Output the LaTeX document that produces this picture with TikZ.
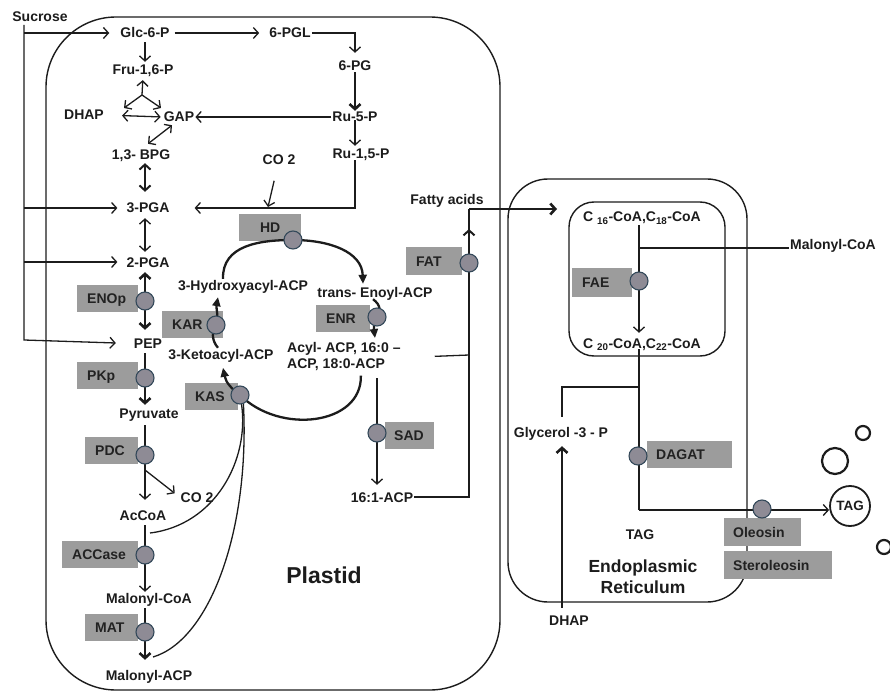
\documentclass[tikz,border=0pt]{standalone}
\usepackage{fontspec}
\setmainfont{Liberation Sans}
\usetikzlibrary{arrows.meta}
\definecolor{ink}{HTML}{1C1C1C}
\definecolor{boxgray}{HTML}{9C9C9C}
\definecolor{boxtext}{HTML}{222222}
\definecolor{circfill}{HTML}{8E8B95}
\definecolor{circedge}{HTML}{34495A}
\begin{document}
\begin{tikzpicture}[x=1pt,y=-1pt,
  txt/.style={font=\fontsize{14}{16}\selectfont\bfseries, text=ink, inner sep=1pt},
  lbl/.style={txt, text height=10pt, text depth=0pt},
  enz/.style={fill=boxgray, text=boxtext, font=\fontsize{14}{16}\selectfont\bfseries, inner xsep=10pt, inner ysep=0pt, minimum height=27pt, anchor=west, text height=10pt, text depth=0pt},
  enzc/.style={circle, fill=circfill, draw=circedge, line width=1.1pt, minimum size=18pt, inner sep=0pt},
  ln/.style={draw=ink, line width=1.3pt},
  mid/.style={draw=ink, line width=2pt},
  thk/.style={draw=ink, line width=2.6pt},
  cyc/.style={draw=ink, line width=2.3pt},
  comp/.style={draw=ink, line width=1.4pt},
  barb/.tip={Straight Barb[length=5pt,width=11pt]},
  tri/.tip={Triangle[length=9pt,width=8pt]},
  drop/.style={circle, draw=ink, line width=2.2pt, inner sep=0pt}
]
\useasboundingbox (0,0) rectangle (890,692);

% compartments
\draw[comp, rounded corners=70pt] (46,17) rectangle (500,690);
\draw[comp, rounded corners=40pt] (508,179) rectangle (747,602);
\draw[comp, rounded corners=25pt] (569,202) rectangle (725,356);

% enzyme boxes
\node[enz] (enop) at (77,298.5) {\makebox[41pt][l]{ENOp}};
\node[enz] (pkp) at (77,375) {\makebox[41pt][l]{PKp}};
\node[enz] (pdc) at (85,450) {\makebox[33pt][l]{PDC}};
\node[enz] (accase) at (62,554.5) {\makebox[56pt][l]{ACCase}};
\node[enz] (mat) at (85,627.5) {\makebox[33pt][l]{MAT}};
\node[enz] (hd) at (239,227.5) {\makebox[42pt][c]{HD}};
\node[enz] (kar) at (162,324) {\makebox[41pt][l]{KAR}};
\node[enz] (kas) at (185,396.5) {\makebox[33pt][l]{KAS}};
\node[enz] (enr) at (316,318.5) {\makebox[34pt][l]{ENR}};
\node[enz] (fat) at (406,261) {\makebox[36pt][l]{FAT}};
\node[enz, inner xsep=9pt] (sad) at (385,435) {\makebox[31pt][l]{SAD}};
\node[enz, minimum height=29pt] (fae) at (572,282.5) {\makebox[40pt][l]{FAE}};
\node[enz, inner xsep=9pt] (dagat) at (647,454.5) {\makebox[67pt][l]{DAGAT}};
\node[enz, inner xsep=9pt, minimum height=28pt] (oleo) at (724,532) {\makebox[59pt][l]{Oleosin}};
\node[enz, inner xsep=9pt, minimum height=28pt] (stero) at (724,565) {\makebox[90pt][l]{Steroleosin}};

% metabolite labels
\node[lbl] (suc) at (40,17) {Sucrose};
\node[lbl] (glc) at (145,33) {Glc-6-P};
\node[lbl] (pgl) at (290,33) {6-PGL};
\node[lbl] (pg) at (355,66) {6-PG};
\node[lbl] (ru5) at (355,117) {Ru-5-P};
\node[lbl] (ru15) at (361,154) {Ru-1,5-P};
\node[lbl] (gap) at (179,117) {GAP};
\node[lbl] (dhapa) at (84,115) {DHAP};
\node[lbl] (fru) at (143,70) {Fru-1,6-P};
\node[lbl] (bpg) at (141,155) {1,3- BPG};
\node[lbl] (co2a) at (279,160) {CO 2};
\node[lbl] (pgathree) at (148,208) {3-PGA};
\node[lbl] (pgatwo) at (148,262) {2-PGA};
\node[lbl] (pep) at (148,343) {PEP};
\node[lbl] (pyr) at (149,413) {Pyruvate};
\node[lbl] (co2b) at (197,497) {CO 2};
\node[lbl] (accoa) at (143,515) {AcCoA};
\node[lbl] (malcoa) at (149,598) {Malonyl-CoA};
\node[lbl] (malacp) at (149,675) {Malonyl-ACP};
\node[lbl] (hyd) at (243,285) {3-Hydroxyacyl-ACP};
\node[lbl] (keto) at (221,354) {3-Ketoacyl-ACP};
\node[lbl] (enoyl) at (375,293) {trans- Enoyl-ACP};
\node[txt, align=left, anchor=north west] (acyl) at (286,341) {Acyl- ACP, 16:0 --\\ACP, 18:0-ACP};
\node[lbl] (fa) at (447,200) {Fatty acids};
\node[lbl] (cone) at (382,497) {16:1-ACP};
\node[font=\fontsize{23}{26}\selectfont\bfseries, text=ink] (plastid) at (324,575) {Plastid};
\node[lbl] (csixteen) at (642,217) {C \textsubscript{16}-CoA,C\textsubscript{18}-CoA};
\node[lbl] (ctwenty) at (642,343) {C \textsubscript{20}-CoA,C\textsubscript{22}-CoA};
\node[lbl] (malcoab) at (833,245) {Malonyl-CoA};
\node[lbl] (gly) at (561,432) {Glycerol -3 - P};
\node[lbl] (dhapb) at (569,620) {DHAP};
\node[lbl] (tagin) at (640,534) {TAG};
\node[txt, font=\fontsize{17.5}{21}\selectfont\bfseries, align=center, anchor=north] (er) at (643,558.5) {Endoplasmic\\Reticulum};
\node[circle, draw=ink, line width=1.8pt, minimum size=40pt, inner sep=0pt, font=\fontsize{13.5}{15}\selectfont\bfseries, text=ink] (tagc) at (850,506) {TAG};

% helper coordinates
\coordinate (colx) at (145,0);
\coordinate (s0) at (24,25);
\coordinate (s1) at (24,340);
\coordinate (tri0) at (142,95);
\coordinate (triL) at (124,108);
\coordinate (triR) at (161,108);
\coordinate (co2tip) at (268,207);
\coordinate (pdcb) at (145,470);
\coordinate (acj) at (150,533);
\coordinate (mtj) at (153,657);
\coordinate (enrtip) at (375,338);
\coordinate (sadstart) at (377,378);
\coordinate (fajn) at (469,355);
\coordinate (famid) at (469,229);
\coordinate (fatop) at (469,209);
\coordinate (fatip) at (557,209);
\coordinate (erx) at (639,0);
\coordinate (mjn) at (639,248);
\coordinate (gjn) at (639,387);
\coordinate (glx) at (562,0);
\coordinate (tagcorner) at (639,510);

% sucrose
\draw[ln, -barb] (s0) -- (s1) -- ([xshift=-17pt]pep.west);
\draw[ln, -barb] (s0 |- glc.west) -- ([xshift=-10pt]glc.west);
\draw[ln, -barb] (s0 |- pgathree.west) -- ([xshift=-8pt]pgathree.west);
\draw[ln, -barb] (s0 |- pgatwo.west) -- ([xshift=-8pt]pgatwo.west);

% glycolysis / pentose phosphate
\draw[ln, -barb, shorten <=4pt, shorten >=9pt] (glc.east) -- (pgl.west);
\draw[ln, -barb, shorten >=7pt] (pgl.east) -| (pg.north);
\draw[thk, -barb] (pg.south) -- (ru5.north);
\draw[ln, -barb] (ru5.west) -- (gap.east);
\draw[ln, -barb, shorten <=-3pt, shorten >=2pt] (ru5.south) -- (ru5.south |- ru15.north);
\draw[ln, -barb, shorten >=24pt] ([xshift=-6pt]ru15.south) |- (pgathree.east);
\draw[ln, -barb, shorten <=15pt] (co2a) -- (co2tip);
\draw[ln, -barb, shorten <=3pt, shorten >=2pt] (glc.south) -- (glc.south |- fru.north);
\draw[ln, -barb, shorten >=4pt] (tri0) -- (fru.south);
\draw[ln, -barb] (tri0) -- (triL);
\draw[ln, -barb] (tri0) -- (triR);
\draw[ln, barb-barb, shorten <=17pt, shorten >=2pt] (dhapa.east) -- (gap.west);
\draw[ln, barb-barb] ([xshift=-7pt,yshift=-2pt]gap.south) -- ([xshift=7pt,yshift=5pt]bpg.north);
\draw[mid, barb-barb, shorten <=2pt, shorten >=10pt] (bpg.south -| colx) -- (pgathree.north -| colx);
\draw[ln, barb-barb, shorten <=4pt, shorten >=4pt] (pgathree.south -| colx) -- (pgatwo.north -| colx);
\draw[thk, barb-barb, shorten <=4pt, shorten >=7pt] (pgatwo.south -| colx) -- (pep.north -| colx);
\draw[thk, -barb, shorten <=4pt, shorten >=2pt] (pep.south -| colx) -- (pyr.north -| colx);
\draw[ln, -barb, shorten <=6pt, shorten >=9pt] (pyr.south -| colx) -- (accoa.north -| colx);
\draw[ln, -barb, shorten >=6pt] (pdcb) -- (co2b.west);
\draw[ln, -barb, shorten <=4pt] (accoa.south -| colx) -- (malcoa.north -| colx);
\draw[thk, -barb, shorten <=4pt, shorten >=9pt] (malcoa.south -| colx) -- (malacp.north -| colx);

% malonyl links to KAS
\coordinate (kasx) at ([xshift=-1pt]kas.east);
\draw[ln] ([xshift=4pt,yshift=-7pt]kasx) .. controls (250,460) and (215,525) .. (acj);
\draw[ln] ([xshift=6pt,yshift=-7pt]kasx) .. controls (250,530) and (210,640) .. (mtj);

% fatty acid cycle
\draw[cyc, -tri] ([xshift=-20pt]hyd.north) .. controls (222,245) and (260,240) .. (293,240)
   .. controls (330,240) and (362,252) .. ([xshift=-12pt,yshift=3pt]enoyl.north);
\draw[cyc, -tri] ([xshift=-2pt]enoyl.south) .. controls (381,305) and (381,312) .. (377,317)
   .. controls (373,322) and (374,330) .. (enrtip);
\draw[cyc] ([xshift=17pt,yshift=-4pt]acyl.south) .. controls (362,425) and (280,435) .. (240,395);
\draw[cyc, -tri] (240,395) .. controls (232,389) and (226,383) .. ([xshift=2pt,yshift=-20pt]keto.north);
\draw[cyc, -tri] ([xshift=-3pt]keto.north) .. controls (211,340) and (212,330) .. (216,325)
   .. controls (219,318) and (216,308) .. ([xshift=-25pt,yshift=-6pt]hyd.south);

% desaturation / export
\draw[ln, -barb, shorten >=6pt] (sadstart) -- (sadstart |- cone.north);
\draw[ln] (cone.east) -| (fajn);
\draw[ln] ([xshift=33pt]acyl.east) -- (fajn);
\draw[mid] (fajn) -- (fatop);
\draw[mid, -barb] (fajn) -- (famid);
\draw[thk, -barb] (fatop) -- (fatip);

% ER
\draw[ln, -barb, shorten <=2pt, shorten >=4pt] (csixteen.south -| erx) -- (ctwenty.north -| erx);
\draw[thk] (mjn -| malcoab.west) -- (mjn);
\draw[ln] (ctwenty.south -| erx) -- (tagcorner);
\draw[ln, -barb] (tagcorner) -- (tagcorner -| tagc.west);
\draw[thk, shorten >=9pt] (gjn) -| (gly.north -| glx);
\draw[thk, -barb, shorten <=6pt, shorten >=8pt] (dhapb.north -| glx) -- (gly.south -| glx);

% enzyme circles
\node[enzc] (enopc) at (145,301) {};
\node[enzc] (pkpc) at (145,378) {};
\node[enzc] (pdcc) at (145,455) {};
\node[enzc] (accc) at (145,555) {};
\node[enzc] (matc) at (145,632) {};
\node[enzc] (hdc) at (293,240) {};
\node[enzc] (karc) at (216,325) {};
\node[enzc] (kasc) at (240,395) {};
\node[enzc] (enrc) at (377,317) {};
\node[enzc] (fatc) at (469,263) {};
\node[enzc] (sadc) at (377,433) {};
\node[enzc] (faec) at (639,281) {};
\node[enzc] (dagc) at (638,456) {};
\node[enzc] (oleoc) at (762,509) {};

% oil bodies
\node[drop, minimum size=14pt] (dropa) at (863,433) {};
\node[drop, minimum size=26pt] (dropb) at (835,461) {};
\node[drop, minimum size=14pt] (dropc) at (884,547) {};
\end{tikzpicture}
\end{document}
